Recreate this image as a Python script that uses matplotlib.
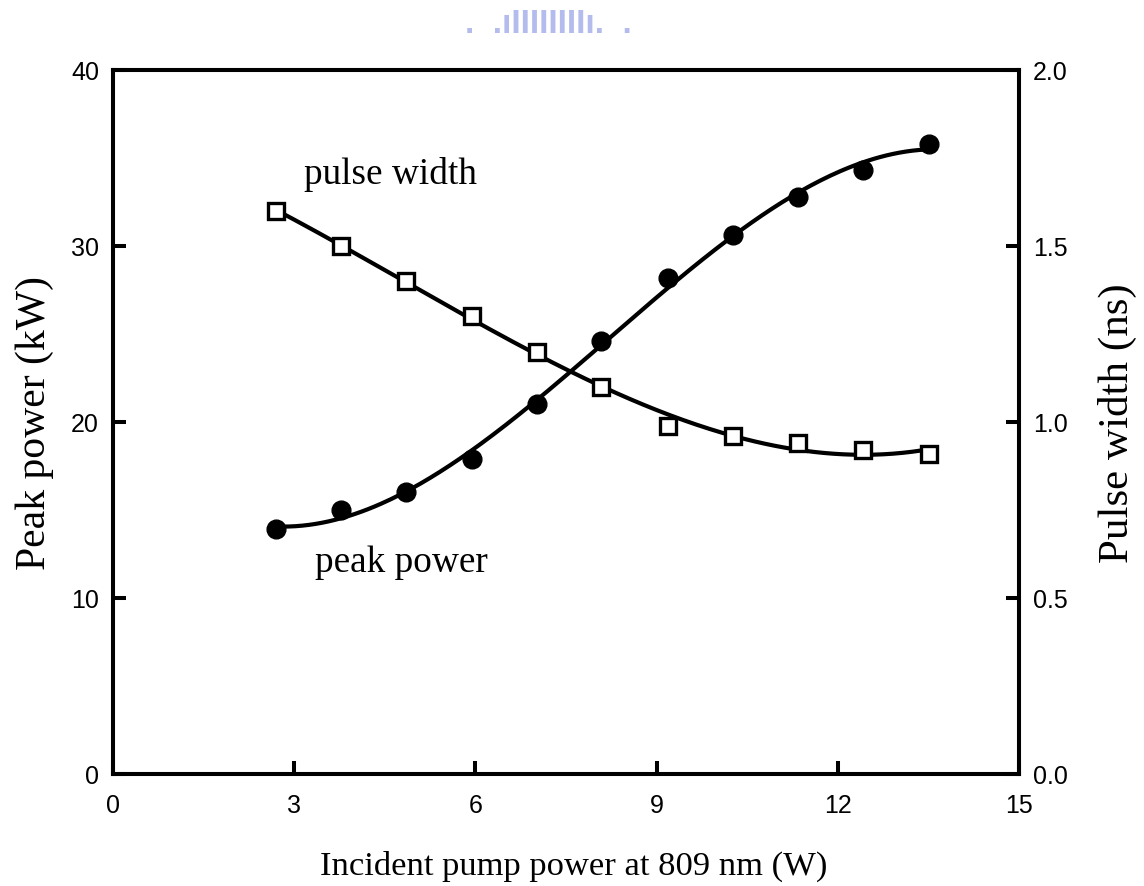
import numpy as np
import matplotlib.pyplot as plt

# incident pump power (W)
pump = [2.70, 3.77, 4.85, 5.94, 7.02, 8.08, 9.19, 10.26, 11.34, 12.42, 13.51]
# peak power (kW)
peak_power = [13.9, 15.0, 16.0, 17.9, 21.0, 24.6, 28.2, 30.6, 32.8, 34.3, 35.8]
# pulse width (ns)
pulse_width = [1.60, 1.50, 1.40, 1.30, 1.20, 1.10, 0.99, 0.96, 0.94, 0.92, 0.91]

xticks = [0, 3, 6, 9, 12, 15]

serif = 'Liberation Serif'
sans = 'Liberation Sans'

fig = plt.figure(figsize=(11.44, 8.87), dpi=100)
ax = fig.add_axes([113/1144, 112/887, 906/1144, 704/887])
ax2 = ax.twinx()

# smooth fitted curves through the measured points
xf = np.linspace(min(pump), max(pump), 200)
pp_fit = np.polyval(np.polyfit(pump, peak_power, 3), xf)
pw_fit = np.polyval(np.polyfit(pump, pulse_width, 3), xf)

ax.plot(xf, pp_fit, color='black', lw=3.0)
ax.plot(pump, peak_power, 'o', color='black', ms=13.5, zorder=5)
ax2.plot(xf, pw_fit, color='black', lw=3.0)
ax2.plot(pump, pulse_width, 's', mfc='white', mec='black', mew=2.4, ms=11, zorder=5)

ax.set_xlim(0, 15)
ax.set_ylim(0, 40)
ax2.set_ylim(0, 2.0)
ax.set_xticks(xticks)
ax.set_yticks([0, 10, 20, 30, 40])
ax2.set_yticks([0, 0.5, 1.0, 1.5, 2.0])
ax2.set_yticklabels(['0.0', '0.5', '1.0', '1.5', '2.0'])

for a in (ax, ax2):
    for s in a.spines.values():
        s.set_linewidth(2.9)
    a.tick_params(direction='in', length=9.5, width=2.9, labelsize=18, pad=10)
    for lab in a.get_xticklabels() + a.get_yticklabels():
        lab.set_fontfamily(sans)
ax.tick_params(axis='x', pad=14)

ax.set_xlabel('Incident pump power at 809 nm (W)', family=serif, fontsize=24.8)
ax.xaxis.set_label_coords(0.509, -0.107)
ax.set_ylabel('Peak power (kW)', family=serif, fontsize=30, labelpad=12)
ax2.set_ylabel('Pulse width (ns)', family=serif, fontsize=31, labelpad=22)

ax.text(3.16, 34.1, 'pulse width', family=serif, fontsize=26.8, va='center')
ax.text(3.34, 12.05, 'peak power', family=serif, fontsize=26.8, va='center')

# faint watermark at the top
fig.text(0.479, 0.972, '.  .ıIIIIIIIIı.  .', color='#9aa6e8', alpha=0.75, fontsize=24,
         ha='center', va='center', family=sans, weight='bold')

fig.savefig('out.png', dpi=100)
